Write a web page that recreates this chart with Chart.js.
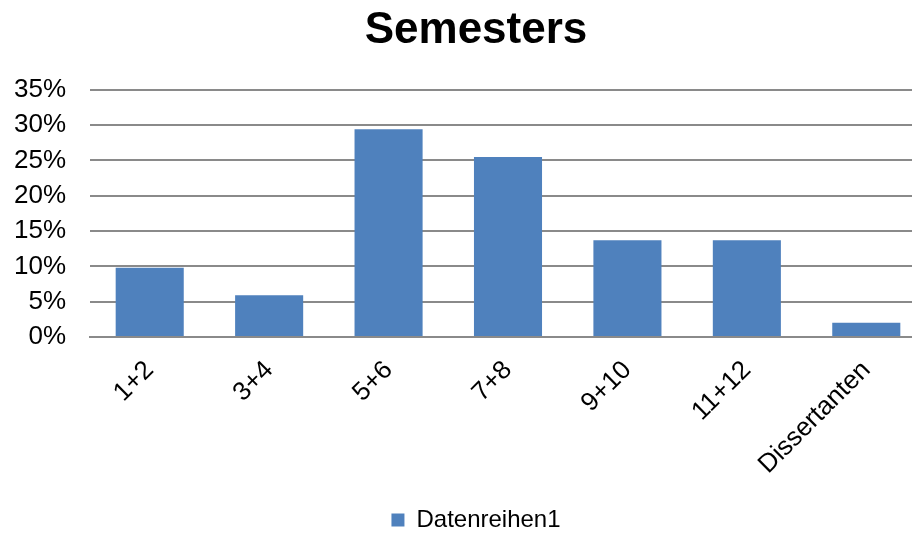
<!DOCTYPE html>
<html>
<head>
<meta charset="utf-8">
<script src="https://cdn.jsdelivr.net/npm/chart.js@4.4.0/dist/chart.umd.min.js"></script>
<style>
  html, body { margin: 0; padding: 0; background: #fff; overflow: hidden; }
  #wrap { width: 912px; height: 533px; overflow: hidden; }
  #lienzo { width: 964px; height: 533px; }
</style>
</head>
<body>
<div id="wrap"><div id="lienzo"><canvas id="grafica"></canvas></div></div>
<script>
// datos del grafico
const semestres = ['1+2', '3+4', '5+6', '7+8', '9+10', '11+12', 'Dissertanten'];
const anteile = [0.098, 0.059, 0.294, 0.255, 0.137, 0.137, 0.020];
const serieName = 'Datenreihen1';
const titel = 'Semesters';

const fuente = '"Liberation Sans", Arial, sans-serif';
const gris = '#8a8a8a';
const azul = '#4f81bd';

const ctx = document.getElementById('grafica').getContext('2d');

const chart = new Chart(ctx, {
  type: 'bar',
  data: {
    labels: semestres,
    datasets: [{
      label: serieName,
      data: anteile,
      backgroundColor: azul,
      borderWidth: 0,
      categoryPercentage: 1.0,
      barPercentage: 0.57
    }]
  },
  options: {
    responsive: true,
    maintainAspectRatio: false,
    animation: false,
    layout: { padding: { left: 14, right: 26, top: 0, bottom: -9 } },
    plugins: {
      title: {
        display: true,
        text: titel,
        color: '#000',
        font: { family: fuente, size: 44, weight: 'bold' },
        padding: { top: 4, bottom: 33 }
      },
      legend: {
        display: true,
        position: 'bottom',
        labels: {
          color: '#000',
          font: { family: fuente, size: 24 },
          boxWidth: 13,
          boxHeight: 13,
          padding: 2
        }
      },
      tooltip: { enabled: false }
    },
    scales: {
      x: {
        grid: { display: false },
        border: { display: true, color: gris, width: 2 },
        ticks: {
          color: '#000',
          font: { family: fuente, size: 26 },
          maxRotation: 45,
          minRotation: 45,
          padding: 10
        },
        // el area del grafico termina fuera de la imagen, como en el original
        afterFit: function (s) { s.paddingLeft = 0; s.paddingRight = 38; s.height = 169; }
      },
      y: {
        min: 0,
        max: 0.35,
        grid: { color: gris, lineWidth: 2, drawTicks: false },
        border: { display: false },
        ticks: {
          stepSize: 0.05,
          autoSkip: false,
          color: '#000',
          font: { family: fuente, size: 26 },
          padding: 24,
          callback: function (v) { return Math.round(v * 100) + '%'; }
        },
        afterFit: function (s) { s.width = 76; }
      }
    }
  }
});
</script>
</body>
</html>
